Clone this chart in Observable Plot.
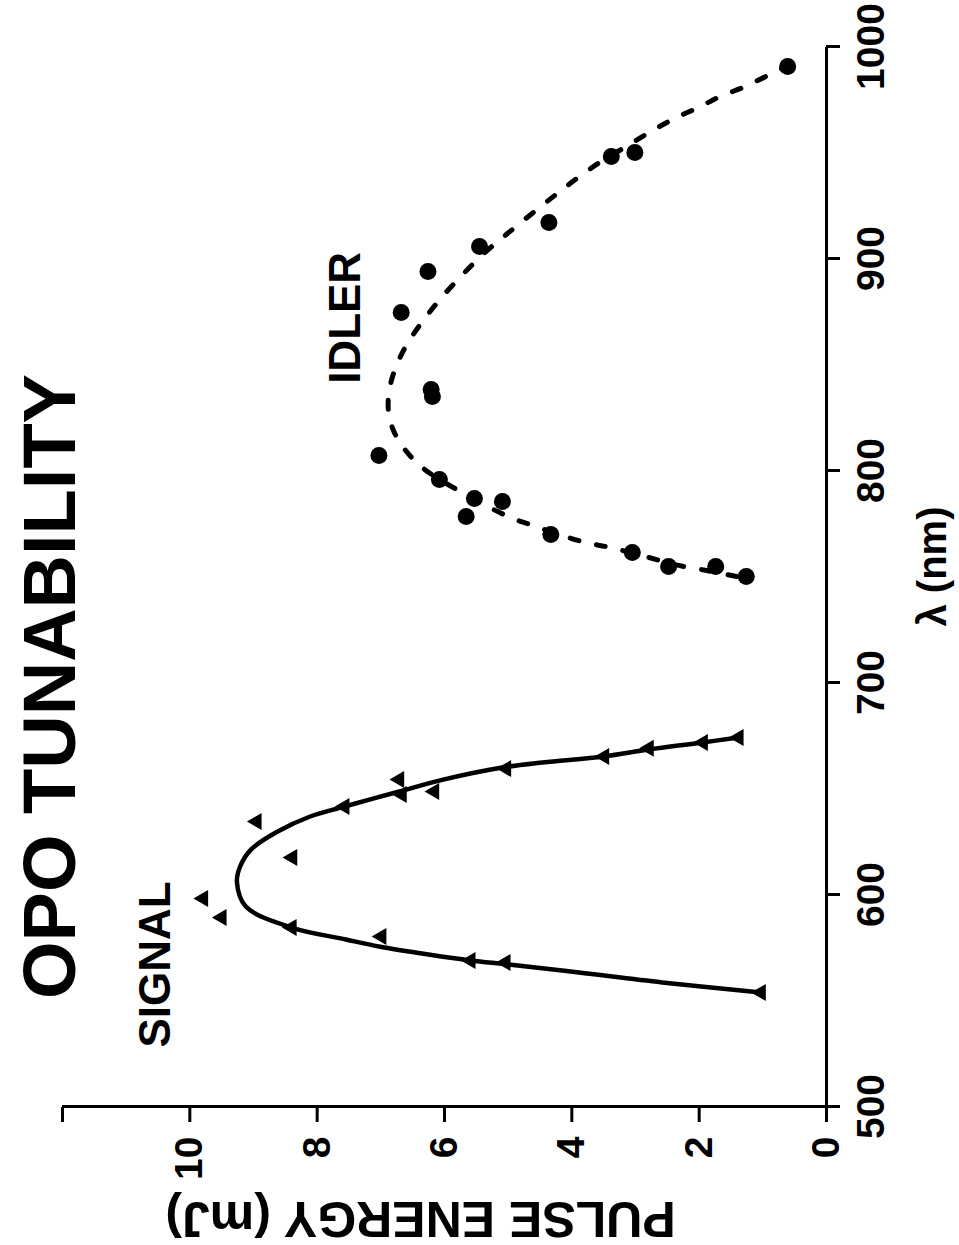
<!DOCTYPE html>
<html><head><meta charset="utf-8">
<script src="https://cdn.jsdelivr.net/npm/d3@7"></script>
<script src="https://cdn.jsdelivr.net/npm/@observablehq/plot@0.6"></script>
<style>
html,body{margin:0;padding:0;background:#fff;}
#wrap{position:relative;width:959px;height:1245px;overflow:hidden;background:#fff;}
#chart{position:absolute;left:0;top:0;width:1245px;height:959px;transform-origin:0 0;transform:translate(0px,1245px) rotate(-90deg);}
</style></head><body>
<div id="wrap"><div id="chart"></div></div>
<script>
// Measured data: signal (triangles) and idler (dots)
const signalWavelength = [553.8,674.1,671.7,669.0,665.1,659.4,654.2,647.2,648.6,641.5,634.4,617.5,598.1,589.2,584.4,580.2,568.9,567.9];
const signalEnergy     = [1.03,1.38,1.94,2.79,3.49,5.03,6.71,6.67,6.16,7.57,8.95,8.39,9.79,9.50,8.40,6.99,5.59,5.04];
const idlerWavelength  = [990.6,948.1,950.0,917.0,905.7,893.9,874.5,838.2,834.9,807.1,795.8,786.8,785.4,778.3,769.8,761.3,754.7,754.7,750.0];
const idlerEnergy      = [0.61,3.38,3.01,4.36,5.45,6.26,6.68,6.21,6.19,7.03,6.08,5.53,5.09,5.66,4.33,3.05,2.48,1.74,1.26];
// Fitted curves
const signalFitWavelength = [553.8,558.5,563.2,567.0,568.9,571.7,575.5,578.8,584.4,594.3,605.7,613.2,621.2,629.7,636.8,641.5,648.6,654.2,659.9,662.3,665.1,668.4,671.7,674.1];
const signalFitEnergy     = [1.03,2.58,3.89,4.99,5.59,6.25,7.03,7.55,8.40,9.12,9.26,9.21,9.04,8.62,8.11,7.57,6.71,6.02,5.09,4.46,3.50,2.79,1.95,1.38];
const idlerFitWavelength  = [750.0,752.8,755.7,758.0,763.7,766.0,770.8,773.6,776.9,782.5,787.7,801.4,813.2,824.1,834.9,846.7,858.5,868.9,879.7,891.0,901.9,911.3,930.2,938.2,945.8,952.4,959.9,966.0,971.7,976.4,981.1,986.8,990.6];
const idlerFitEnergy      = [1.41,1.88,2.40,2.67,3.40,3.78,4.30,4.56,4.89,5.29,5.61,6.35,6.70,6.86,6.88,6.79,6.61,6.38,6.10,5.76,5.40,5.03,4.25,3.90,3.54,3.17,2.76,2.39,1.98,1.67,1.28,0.89,0.62];
// Axes
const xTicks = [500,600,700,800,900,1000];
const xTickLabels = ["500","600","700","800","900","1000"];
const yTicks = [0,2,4,6,8,10,12];
const yTickLabels = ["0","2","4","6","8","10",""];
// Annotations
const labelText = ["SIGNAL","IDLER"];
const labelWavelength = [567,872];
const labelEnergy = [10.54,7.55];

const zip = (w, e) => w.map((d, i) => ({w: d, e: e[i]}));
const signal = zip(signalWavelength, signalEnergy);
const idler = zip(idlerWavelength, idlerEnergy);
const signalFit = zip(signalFitWavelength, signalFitEnergy);
const idlerFit = zip(idlerFitWavelength, idlerFitEnergy);
const labels = labelText.map((t, i) => ({t, w: labelWavelength[i], e: labelEnergy[i]}));

const font = "'Liberation Sans', Arial, Helvetica, sans-serif";
const plot = Plot.plot({
  width: 1245, height: 959,
  marginLeft: 138, marginRight: 47, marginTop: 62, marginBottom: 133,
  style: {background: "#fff", fontFamily: font, fontWeight: "bold", color: "#000", overflow: "visible"},
  x: {domain: [500, 1000]},
  y: {domain: [0, 12]},
  marks: [
    Plot.axisX(xTicks, {tickSize: 14, tickPadding: 16, strokeWidth: 3, fontSize: 39, fontWeight: "bold", label: null,
      tickFormat: d => xTickLabels[xTicks.indexOf(d)]}),
    Plot.axisY(yTicks, {tickSize: 15, tickPadding: 15, strokeWidth: 3, fontSize: 39, fontWeight: "bold", label: null,
      tickFormat: d => yTickLabels[yTicks.indexOf(d)]}),
    Plot.ruleY([0], {strokeWidth: 3}),
    Plot.ruleX([500], {strokeWidth: 3}),
    Plot.line(signalFit, {x: "w", y: "e", curve: "catmull-rom", strokeWidth: 4.5, stroke: "#000"}),
    Plot.line(idlerFit, {x: "w", y: "e", curve: "catmull-rom", strokeWidth: 5, stroke: "#000", strokeDasharray: "9,18", strokeLinecap: "round"}),
    Plot.dot(signal, {x: "w", y: "e", symbol: "triangle", r: 6.3, fill: "#000", stroke: "none"}),
    Plot.dot(idler, {x: "w", y: "e", r: 8.5, fill: "#000", stroke: "none"}),
    Plot.text(labels, {x: "w", y: "e", text: "t", fontSize: 44, fontWeight: "bold", lineAnchor: "middle", textAnchor: "middle"}),
    Plot.text(["OPO TUNABILITY"], {frameAnchor: "top", dx: -110, dy: -11, fontSize: 74, fontWeight: "bold", lineAnchor: "middle", textAnchor: "middle"}),
    Plot.text(["PULSE ENERGY (mJ)"], {frameAnchor: "left", rotate: -90, dx: -111, dy: -24, fontSize: 50, fontWeight: "bold", lineAnchor: "middle", textAnchor: "middle"}),
    Plot.text(["λ (nm)"], {frameAnchor: "bottom", dx: 10, dy: 107, fontSize: 40, fontWeight: "bold", lineAnchor: "middle", textAnchor: "middle"})
  ]
});
document.getElementById("chart").appendChild(plot);
</script>
</body></html>
